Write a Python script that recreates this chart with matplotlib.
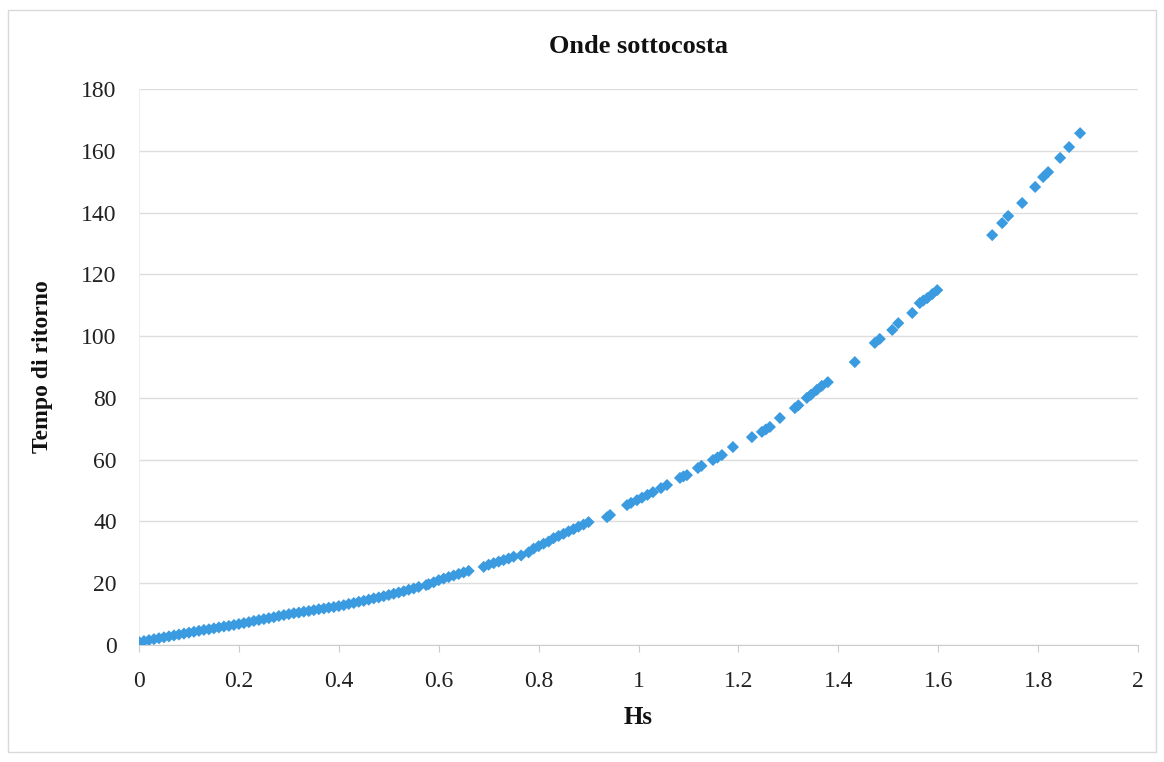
import matplotlib.pyplot as plt
from matplotlib.patches import Rectangle

# valori
hs = [0.00, 0.01, 0.02, 0.03, 0.04, 0.05, 0.06, 0.07, 0.08, 0.09,
      0.10, 0.11, 0.12, 0.13, 0.14, 0.15, 0.16, 0.17, 0.18, 0.19,
      0.20, 0.21, 0.22, 0.23, 0.24, 0.25, 0.26, 0.27, 0.28, 0.29,
      0.30, 0.31, 0.32, 0.33, 0.34, 0.35, 0.36, 0.37, 0.38, 0.39,
      0.40, 0.41, 0.42, 0.43, 0.44, 0.45, 0.46, 0.47, 0.48, 0.49,
      0.50, 0.51, 0.52, 0.53, 0.54, 0.55, 0.56,
      0.575, 0.58, 0.59, 0.60, 0.61, 0.62, 0.63, 0.64, 0.65, 0.66,
      0.69, 0.70, 0.71, 0.72, 0.73, 0.74, 0.75,
      0.765, 0.78, 0.79, 0.80, 0.81, 0.82, 0.83, 0.84, 0.85, 0.86,
      0.87, 0.88, 0.89, 0.90,
      0.937, 0.943,
      0.977, 0.985, 0.997, 1.007, 1.018, 1.029, 1.045, 1.057,
      1.083, 1.090, 1.097, 1.119, 1.126, 1.149, 1.158, 1.167,
      1.189, 1.227, 1.247, 1.255, 1.263, 1.283,
      1.313, 1.320, 1.337, 1.345, 1.357, 1.367, 1.379,
      1.433, 1.473, 1.483, 1.508, 1.520, 1.548, 1.563, 1.570, 1.578,
      1.588, 1.598,
      1.708, 1.728, 1.740, 1.768, 1.794, 1.810, 1.820, 1.844, 1.862,
      1.884]
tempo = [1.0, 1.3, 1.6, 1.9, 2.2, 2.5, 2.8, 3.1, 3.4, 3.7,
         4.0, 4.3, 4.6, 4.9, 5.1, 5.4, 5.7, 6.0, 6.2, 6.5,
         6.8, 7.1, 7.4, 7.8, 8.1, 8.4, 8.7, 9.0, 9.4, 9.7,
         10.0, 10.3, 10.5, 10.8, 11.0, 11.3, 11.6, 11.8, 12.1, 12.3,
         12.6, 12.9, 13.3, 13.6, 14.0, 14.3, 14.7, 15.1, 15.4, 15.8,
         16.2, 16.6, 17.0, 17.4, 17.9, 18.3, 18.8,
         19.4, 19.7, 20.3, 21.0, 21.5, 22.0, 22.5, 23.0, 23.5, 24.0,
         25.3, 26.0, 26.5, 27.0, 27.5, 28.0, 28.6,
         29.0, 30.0, 31.2, 32.0, 32.8, 33.5, 34.6, 35.3, 36.0, 36.8,
         37.5, 38.3, 39.0, 39.8,
         41.4, 42.1,
         45.3, 46.0, 46.9, 47.7, 48.6, 49.5, 50.8, 51.8,
         54.1, 54.6, 55.0, 57.3, 58.0, 59.9, 60.7, 61.5,
         64.1, 67.3, 69.0, 69.8, 70.6, 73.5,
         76.7, 77.6, 80.0, 81.0, 82.6, 83.9, 85.1,
         91.6, 97.8, 99.1, 102.0, 104.2, 107.5, 110.7, 111.5, 112.3,
         113.6, 114.9,
         132.7, 136.6, 138.9, 143.1, 148.3, 151.5, 153.1, 157.7, 161.2,
         165.7]

xticks = [0, 0.2, 0.4, 0.6, 0.8, 1, 1.2, 1.4, 1.6, 1.8, 2]
xlabels = ['0', '0.2', '0.4', '0.6', '0.8', '1', '1.2', '1.4', '1.6', '1.8', '2']
yticks = [0, 20, 40, 60, 80, 100, 120, 140, 160, 180]

plt.rcParams['font.family'] = ['Liberation Serif', 'DejaVu Serif']

fig = plt.figure(figsize=(11.64, 7.62), dpi=100)
ax = fig.add_axes([0.1194, 0.1535, 0.8583, 0.7297])

ax.scatter(hs, tempo, s=38, marker='D', color='#3b9be0', edgecolors='none', zorder=3)

ax.set_xlim(0, 2)
ax.set_ylim(0, 180)
ax.set_xticks(xticks)
ax.set_xticklabels(xlabels)
ax.set_yticks(yticks)
ax.tick_params(axis='both', labelsize=17, colors='#222222')
ax.tick_params(axis='y', length=0, pad=16)
ax.tick_params(axis='x', length=5, color='#cccccc', pad=14)
ax.grid(axis='y', color='#dddddd', linewidth=1)
ax.set_axisbelow(True)
for s in ['top', 'right']:
    ax.spines[s].set_visible(False)
ax.spines['left'].set_color('#eeeeee')
ax.spines['bottom'].set_color('#cccccc')

ax.set_title('Onde sottocosta', fontsize=19, fontweight='bold', pad=26, color='#111111')
ax.set_xlabel('Hs', fontsize=18, fontweight='bold', labelpad=10, color='#111111')
ax.set_ylabel('Tempo di ritorno', fontsize=17, fontweight='bold', labelpad=20, color='#111111')

# bordo del grafico
fig.patches.append(Rectangle((0.007, 0.013), 0.986, 0.974, transform=fig.transFigure,
                             fill=False, edgecolor='#d9d9d9', linewidth=1))

plt.savefig('out.png', dpi=100)
